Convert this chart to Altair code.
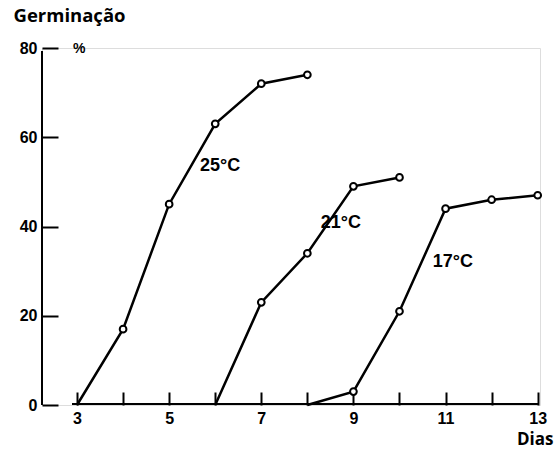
import altair as alt
import pandas as pd

days_25 = [3, 4, 5, 6, 7, 8]
germ_25 = [0, 17, 45, 63, 72, 74]
days_21 = [6, 7, 8, 9, 10]
germ_21 = [0, 23, 34, 49, 51]
days_17 = [8, 9, 10, 11, 12, 13]
germ_17 = [0, 3, 21, 44, 46, 47]

series_names = ["25°C", "21°C", "17°C"]
label_x = [5.67, 8.29, 10.72]
label_y = [53.6, 40.8, 32.0]

x_ticks = [3, 4, 5, 6, 7, 8, 9, 10, 11, 12, 13]
x_labels = ["3", "5", "7", "9", "11", "13"]
y_ticks = [0, 20, 40, 60, 80]

rows = []
for name, ds, gs in zip(series_names, [days_25, days_21, days_17], [germ_25, germ_21, germ_17]):
    for i, (d, g) in enumerate(zip(ds, gs)):
        rows.append({"serie": name, "dia": d, "germ": g, "first": i == 0})
df = pd.DataFrame(rows)
labels_df = pd.DataFrame({"serie": series_names, "dia": label_x, "germ": label_y})
one_df = pd.DataFrame({"t": ["%"]})

W, H = 498, 357
FONT = "Liberation Sans"
XT, YT = 13, 16

xs = alt.Scale(domain=[2.24, 13.05], nice=False, zero=False)
ys = alt.Scale(domain=[0, 80], nice=False)

label_expr = "indexof([" + ",".join(x_labels) + "], datum.value) >= 0 ? datum.label : ''"

x_axis = alt.Axis(values=x_ticks, labelExpr=label_expr, domain=False, ticks=True, tickSize=XT,
                  tickWidth=2, tickColor="black", offset=-XT, grid=False, labelPadding=5,
                  labelFont=FONT, labelFontSize=16, labelFontWeight="bold", labelColor="black",
                  title="Dias", titleFont="Open Sans", titleFontSize=17, titleFontWeight="bold",
                  titleAlign="right", titleBaseline="alphabetic", titleX=511, titleY=XT + 39,
                  titleColor="black")
y_axis = alt.Axis(values=y_ticks, domain=False, ticks=True, tickSize=YT, tickWidth=2,
                  tickColor="black", offset=-YT, grid=False, labelPadding=5, labelFont=FONT,
                  labelFontSize=16, labelFontWeight="bold", labelColor="black",
                  title="Germinação", titleAngle=0, titleAlign="left", titleBaseline="alphabetic",
                  titleX=-29 - YT, titleY=-27, titleFont="Open Sans", titleFontSize=18.5,
                  titleFontWeight="bold", titleColor="black")

base = alt.Chart(df)

lines = base.mark_line(color="black", strokeWidth=2.5).encode(
    x=alt.X("dia:Q", scale=xs, axis=x_axis),
    y=alt.Y("germ:Q", scale=ys, axis=y_axis),
    detail="serie:N",
)
points = base.transform_filter("!datum.first").mark_point(
    shape="circle", filled=True, fill="white", stroke="black", strokeWidth=2, size=45, opacity=1
).encode(x=alt.X("dia:Q", scale=xs), y=alt.Y("germ:Q", scale=ys))

texts = alt.Chart(labels_df).mark_text(
    align="left", baseline="middle", font=FONT, fontSize=18, fontWeight="bold", color="black"
).encode(x=alt.X("dia:Q", scale=xs), y=alt.Y("germ:Q", scale=ys), text="serie:N")

xline = alt.Chart(one_df).mark_rule(color="black", strokeWidth=2).encode(
    x=alt.value(30), x2=alt.value(W - 2), y=alt.value(H - 1), y2=alt.value(H - 1)
)
yline = alt.Chart(one_df).mark_rule(color="black", strokeWidth=2).encode(
    x=alt.value(0), x2=alt.value(0), y=alt.value(3), y2=alt.value(H)
)
pct = alt.Chart(one_df).mark_text(
    align="left", baseline="middle", font=FONT, fontSize=14, fontWeight="bold", color="black"
).encode(x=alt.value(31), y=alt.value(1), text="t:N")

chart = alt.layer(lines, xline, yline, points, texts, pct).properties(
    width=W, height=H,
    autosize=alt.AutoSizeParams(type="none"),
    padding={"left": 42, "top": 48, "right": 15, "bottom": 48},
).configure_view(stroke=None).configure(background="white")

chart.save("out.html", embed_options={"renderer": "svg", "actions": False})
